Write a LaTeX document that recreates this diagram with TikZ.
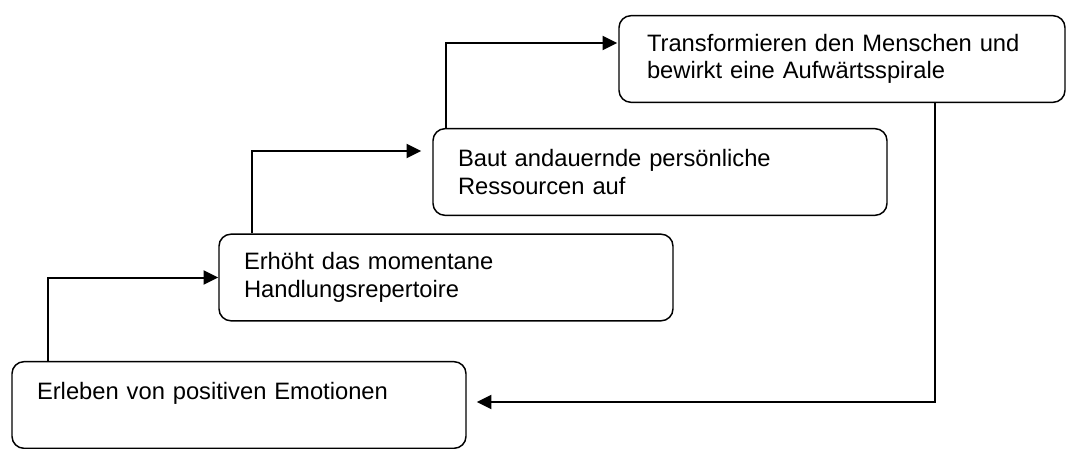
\documentclass[tikz,border=0pt]{standalone}
\usepackage{fontspec}
\setmainfont{Liberation Sans}
\usetikzlibrary{arrows.meta,calc}

\begin{document}
\begin{tikzpicture}[x=0.75pt, y=-0.75pt, >={Triangle[length=11pt,width=10.5pt]}, every text node part/.style={align=left},
    stufe/.style={draw, rectangle, rounded corners=9pt, line width=1.1pt, text width=303pt, inner xsep=18.75pt, minimum height=65pt, font=\fontsize{17.8}{20.6}\selectfont},
    pfeil/.style={->, line width=1.5pt}]
    \useasboundingbox (0,0) rectangle (1067,449);
    \node [stufe] (erleben) at (239,405) {Erleben von positiven Emotionen\\\mbox{}};
    \node [stufe] (erhoeht) at (446,277.5) {Erhöht das momentane\\Handlungsrepertoire};
    \node [stufe] (baut) at (660,172) {Baut andauernde persönliche\\Ressourcen auf};
    \node [stufe, text width=292.5pt, inner xsep=21pt] (trans) at (842,59) {Transformieren den Menschen und\\bewirkt eine Aufwärtsspirale};

    \draw [pfeil] ($(erleben.north west)+(37,0)$) |- (erhoeht.west);
    \draw [pfeil] ($(erhoeht.north west)+(34,0)$) |- ($(baut.west)+(-11,-21)$);
    \draw [pfeil] ($(baut.north west)+(14,0)$) |- ($(trans.west)+(-1,-16)$);
    \draw [pfeil] ($(trans.south west)+(317,0)$) |- ($(erleben.east)+(10,-3)$);
\end{tikzpicture}
\end{document}
